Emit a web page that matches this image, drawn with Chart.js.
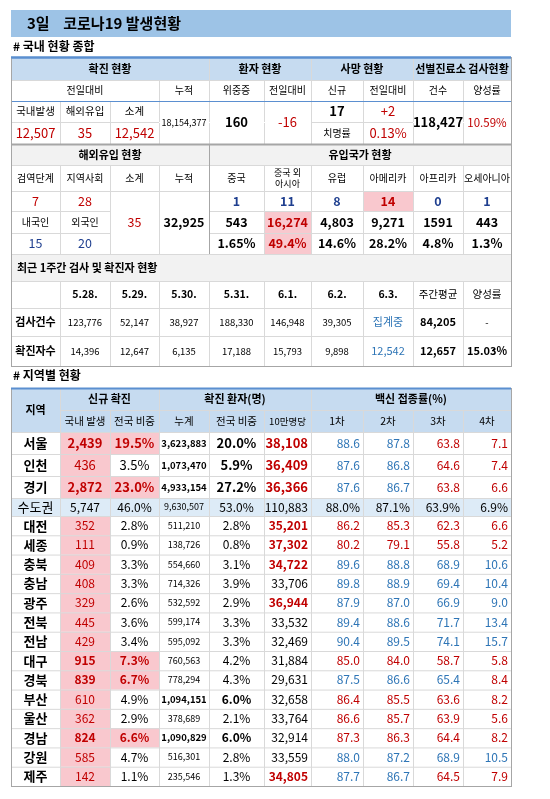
<!DOCTYPE html>
<html>
<head>
<meta charset="utf-8">
<script src="https://cdn.jsdelivr.net/npm/chart.js@4.4.1/dist/chart.umd.min.js"></script>
<style>
  html, body { margin: 0; padding: 0; background: #fff; }
  #board { display: block; }
</style>
</head>
<body>
<canvas id="board" width="550" height="799"></canvas>
<script>
// ---- data ----
const summaryHead = ["확진 현황", "환자 현황", "사망 현황", "선별진료소 검사현황"];
const summarySub = ["전일대비", "누적", "위중증", "전일대비", "신규", "전일대비", "건수", "양성률"];
const dailyLabels = ["국내발생", "해외유입", "소계"];
const dailyValues = ["12,507", "35", "12,542"];
const cumulativeTotal = "18,154,377";
const criticalValues = ["160", "-16"];
const deathValues = ["17", "+2"];
const fatalityRate = "0.13%";
const testValues = ["118,427", "10.59%"];

const importLabels = ["검역단계", "지역사회", "소계", "누적"];
const importStage = ["7", "28"];
const importNation = ["내국인", "외국인"];
const importNationValues = ["15", "20"];
const importSubtotal = "35";
const importCumulative = "32,925";
const originRegions = ["중국", "중국 외\n아시아", "유럽", "아메리카", "아프리카", "오세아니아"];
const originToday = ["1", "11", "8", "14", "0", "1"];
const originCumulative = ["543", "16,274", "4,803", "9,271", "1591", "443"];
const originShare = ["1.65%", "49.4%", "14.6%", "28.2%", "4.8%", "1.3%"];

const weekDates = ["5.28.", "5.29.", "5.30.", "5.31.", "6.1.", "6.2.", "6.3.", "주간평균", "양성률"];
const weekTests = ["123,776", "52,147", "38,927", "188,330", "146,948", "39,305", "집계중", "84,205", "-"];
const weekConfirmed = ["14,396", "12,647", "6,135", "17,188", "15,793", "9,898", "12,542", "12,657", "15.03%"];

const regions = ["서울", "인천", "경기", "수도권", "대전", "세종", "충북", "충남", "광주", "전북", "전남", "대구", "경북", "부산", "울산", "경남", "강원", "제주"];
const newCases = ["2,439", "436", "2,872", "5,747", "352", "111", "409", "408", "329", "445", "429", "915", "839", "610", "362", "824", "585", "142"];
const newShare = ["19.5%", "3.5%", "23.0%", "46.0%", "2.8%", "0.9%", "3.3%", "3.3%", "2.6%", "3.6%", "3.4%", "7.3%", "6.7%", "4.9%", "2.9%", "6.6%", "4.7%", "1.1%"];
const cumCases = ["3,623,883", "1,073,470", "4,933,154", "9,630,507", "511,210", "138,726", "554,660", "714,326", "532,592", "599,174", "595,092", "760,563", "778,294", "1,094,151", "378,689", "1,090,829", "516,301", "235,546"];
const cumShare = ["20.0%", "5.9%", "27.2%", "53.0%", "2.8%", "0.8%", "3.1%", "3.9%", "2.9%", "3.3%", "3.3%", "4.2%", "4.3%", "6.0%", "2.1%", "6.0%", "2.8%", "1.3%"];
const per100k = ["38,108", "36,409", "36,366", "110,883", "35,201", "37,302", "34,722", "33,706", "36,944", "33,532", "32,469", "31,884", "29,631", "32,658", "33,764", "32,914", "33,559", "34,805"];
const vac1 = ["88.6", "87.6", "87.6", "88.0%", "86.2", "80.2", "89.6", "89.8", "87.9", "89.4", "90.4", "85.0", "87.5", "86.4", "86.6", "87.3", "88.0", "87.7"];
const vac2 = ["87.8", "86.8", "86.7", "87.1%", "85.3", "79.1", "88.8", "88.9", "87.0", "88.6", "89.5", "84.0", "86.6", "85.5", "85.7", "86.3", "87.2", "86.7"];
const vac3 = ["63.8", "64.6", "63.8", "63.9%", "62.3", "55.8", "68.9", "69.4", "66.9", "71.7", "74.1", "58.7", "65.4", "63.6", "63.9", "64.4", "68.9", "64.5"];
const vac4 = ["7.1", "7.4", "6.6", "6.9%", "6.6", "5.2", "10.6", "10.4", "9.0", "13.4", "15.7", "5.8", "8.4", "8.2", "5.6", "8.2", "10.5", "7.9"];

// ---- styling (kept apart from the values) ----
const RED = "#c00000", BLUE = "#2e75b6", NAVY = "#1f3f8f", PINK = "#f9c8ce";
const HEAD = "#c6dbf0", GRAY = "#f2f2f2", LINE = "#d9d9d9", EDGE = "#a6a6a6", BLUELINE = "#5b8fd0";
const FONT = "'Noto Sans CJK KR', 'Noto Sans', sans-serif";
const vacTone = ["bbrr", "bbrr", "bbrr", "kkkk", "rrrr", "rrrr", "bbbb", "bbbb", "bbbb", "bbbb", "bbbb", "rrrr", "bbbr", "rrrr", "rrrr", "rrrr", "bbbb", "bbrr"];
const hotRegion = ["서울", "경기", "대구", "경북", "경남"];
const boldCum = ["서울", "인천", "경기", "부산", "경남"];
const redPer100k = ["서울", "인천", "경기", "대전", "세종", "충북", "광주", "제주"];

const cols = [11, 60, 110, 159, 209, 264, 311, 363, 413, 463, 511];

const tablePlugin = {
  id: "tablePlugin",
  afterDraw(chart) {
    const c = chart.ctx;
    const X = v => chart.scales.x.getPixelForValue(v);
    const Y = v => chart.scales.y.getPixelForValue(v);

    const box = (x0, y0, x1, y1, color) => {
      c.fillStyle = color;
      c.fillRect(X(x0), Y(y0), X(x1) - X(x0), Y(y1) - Y(y0));
    };
    const hline = (x0, x1, y, color, w) => {
      c.strokeStyle = color; c.lineWidth = w || 1;
      c.beginPath(); c.moveTo(X(x0), Y(y) + 0.5); c.lineTo(X(x1), Y(y) + 0.5); c.stroke();
    };
    const vline = (x, y0, y1, color, w) => {
      c.strokeStyle = color; c.lineWidth = w || 1;
      c.beginPath(); c.moveTo(X(x) + 0.5, Y(y0)); c.lineTo(X(x) + 0.5, Y(y1)); c.stroke();
    };
    const write = (str, x, y, o) => {
      o = o || {};
      c.font = (o.bold ? "bold " : "") + (o.size || 11) + "px " + FONT;
      c.fillStyle = o.color || "#000";
      c.textAlign = o.align || "center";
      c.textBaseline = "middle";
      const lines = String(str).split("\n");
      const lh = (o.size || 11) + 2;
      lines.forEach((ln, i) => c.fillText(ln, X(x), Y(y) + (i - (lines.length - 1) / 2) * lh));
    };
    // cell spanning column indices a..b and rows y0..y1
    const cell = (a, b, y0, y1, str, o) => {
      o = o || {};
      if (o.bg) box(cols[a], y0, cols[b], y1, o.bg);
      if (o.align === "right") write(str, cols[b] - 3, (y0 + y1) / 2, o);
      else if (o.align === "left") write(str, cols[a] + 6, (y0 + y1) / 2, o);
      else write(str, (cols[a] + cols[b]) / 2, (y0 + y1) / 2, o);
    };
    const grid = (y0, y1, ys, xs) => {
      ys.forEach(y => hline(cols[0], cols[10], y, LINE));
      xs.forEach(([x, a, b]) => vline(x, a, b, LINE));
    };

    // title
    box(11, 10, 511, 37, "#9dc3e6");
    write("3일    코로나19 발생현황", 27, 23.5, { bold: true, size: 15, align: "left" });
    write("# 국내 현황 종합", 13, 46, { bold: true, size: 12, align: "left" });

    // ---- section 1 ----
    box(cols[0], 57, cols[10], 80, HEAD);
    grid(57, 144, [80, 122], []);
    [[cols[4], 57, 144], [cols[6], 57, 144], [cols[8], 57, 144]].forEach(l => vline(l[0], l[1], l[2], LINE));
    [1, 2].forEach(i => vline(cols[i], 101, 144, LINE));
    vline(cols[3], 80, 144, LINE); vline(cols[5], 80, 144, LINE);
    vline(cols[7], 80, 144, LINE); vline(cols[9], 80, 144, LINE);
    hline(cols[0], cols[3], 122, LINE); hline(cols[6], cols[8], 122, LINE);
    hline(cols[3], cols[6], 122, "#fff", 1); hline(cols[8], cols[10], 122, "#fff", 1);
    [0, 4, 6, 8].forEach((a, i) => cell(a, [4, 6, 8, 10][i], 57, 80, summaryHead[i], { bold: true, size: 11 }));
    const subSpans = [[0, 3], [3, 4], [4, 5], [5, 6], [6, 7], [7, 8], [8, 9], [9, 10]];
    subSpans.forEach((s, i) => cell(s[0], s[1], 80, 101, summarySub[i], { size: 10 }));
    dailyLabels.forEach((t, i) => cell(i, i + 1, 101, 122, t, { size: 10.5 }));
    dailyValues.forEach((t, i) => cell(i, i + 1, 122, 144, t, { size: 13, color: RED }));
    cell(3, 4, 101, 144, cumulativeTotal, { size: 9 });
    cell(4, 5, 101, 144, criticalValues[0], { size: 13, bold: true });
    cell(5, 6, 101, 144, criticalValues[1], { size: 13, color: RED });
    cell(6, 7, 101, 122, deathValues[0], { size: 13, bold: true });
    cell(7, 8, 101, 122, deathValues[1], { size: 13, color: RED });
    cell(6, 7, 122, 144, "치명률", { size: 10 });
    cell(7, 8, 122, 144, fatalityRate, { size: 13, color: RED });
    cell(8, 9, 101, 144, testValues[0], { size: 13, bold: true });
    cell(9, 10, 101, 144, testValues[1], { size: 11.5, color: RED });
    hline(cols[0], cols[10], 57, BLUELINE, 2);
    hline(cols[0], cols[10], 101, BLUELINE, 1);

    // ---- section 2 ----
    box(cols[0], 144, cols[10], 165, GRAY);
    box(cols[0], 254, cols[10], 281, GRAY);
    box(cols[5], 191, cols[6], 254, "#fff");
    box(cols[7], 191, cols[8], 211, PINK);
    box(cols[5], 211, cols[6], 254, PINK);
    [165, 191].forEach(y => hline(cols[0], cols[10], y, LINE));
    hline(cols[0], cols[2], 211, LINE); hline(cols[0], cols[2], 233, LINE);
    hline(cols[4], cols[10], 211, LINE); hline(cols[4], cols[10], 233, LINE);
    for (let i = 1; i < 10; i++) if (i !== 4) vline(cols[i], 165, 254, LINE);
    vline(cols[4], 144, 254, EDGE);
    cell(0, 4, 144, 165, "해외유입 현황", { bold: true, size: 11 });
    cell(4, 10, 144, 165, "유입국가 현황", { bold: true, size: 11 });
    importLabels.forEach((t, i) => cell(i, i + 1, 165, 191, t, { size: 10 }));
    originRegions.forEach((t, i) => cell(4 + i, 5 + i, 165, 191, t, { size: t.includes("\n") ? 9 : 10 }));
    importStage.forEach((t, i) => cell(i, i + 1, 191, 211, t, { size: 12.5, color: RED }));
    importNation.forEach((t, i) => cell(i, i + 1, 211, 233, t, { size: 10 }));
    importNationValues.forEach((t, i) => cell(i, i + 1, 233, 254, t, { size: 12.5, color: NAVY }));
    cell(2, 3, 191, 254, importSubtotal, { size: 12.5, color: RED });
    cell(3, 4, 191, 254, importCumulative, { size: 12.5, bold: true });
    originToday.forEach((t, i) => cell(4 + i, 5 + i, 191, 211, t, { size: 12.5, bold: true, color: i === 3 ? RED : NAVY }));
    originCumulative.forEach((t, i) => cell(4 + i, 5 + i, 211, 233, t, { size: 12.5, bold: true, color: i === 1 ? RED : "#000" }));
    originShare.forEach((t, i) => cell(4 + i, 5 + i, 233, 254, t, { size: 12.5, bold: true, color: i === 1 ? RED : "#000" }));
    hline(cols[0], cols[10], 254, LINE);

    write("최근 1주간 검사 및 확진자 현황", 17, 267.5, { bold: true, size: 11, align: "left" });
    [281, 308, 336].forEach(y => hline(cols[0], cols[10], y, LINE));
    for (let i = 1; i < 10; i++) vline(cols[i], 281, 366, LINE);
    weekDates.forEach((t, i) => cell(i + 1, i + 2, 281, 308, t, { size: 10.5, bold: i < 7 }));
    cell(0, 1, 308, 336, "검사건수", { size: 11, bold: true });
    cell(0, 1, 336, 366, "확진자수", { size: 11, bold: true });
    weekTests.forEach((t, i) => cell(i + 1, i + 2, 308, 336, t, {
      size: i === 6 ? 11 : (i === 7 ? 11 : 9.5), bold: i === 7, color: i === 6 ? BLUE : "#000" }));
    weekConfirmed.forEach((t, i) => cell(i + 1, i + 2, 336, 366, t, {
      size: i < 6 ? 9.5 : 11, bold: i > 6, color: i === 6 ? BLUE : "#000" }));
    c.strokeStyle = EDGE; c.lineWidth = 1;
    c.strokeRect(X(cols[0]) + 0.5, Y(57) + 0.5, X(cols[10]) - X(cols[0]), Y(366) - Y(57));
    hline(cols[0], cols[10], 144, EDGE, 2);
    hline(cols[0], cols[10], 57, BLUELINE, 2);

    // ---- section 3 ----
    write("# 지역별 현황", 13, 375, { bold: true, size: 12, align: "left" });
    box(cols[0], 388, cols[10], 432, HEAD);
    const rowTop = [432, 454, 476, 498, 516];
    while (rowTop.length < regions.length + 1) rowTop.push(516 + (rowTop.length - 4) * (270 / 14));
    box(cols[0], rowTop[3], cols[10], rowTop[4], "#ddebf7");
    hline(cols[1], cols[10], 410, LINE);
    [1, 3, 6].forEach(i => vline(cols[i], 388, 786, LINE));
    [2, 4, 5, 7, 8, 9].forEach(i => vline(cols[i], 410, 786, LINE));
    cell(0, 1, 388, 432, "지역", { bold: true, size: 11 });
    cell(1, 3, 388, 410, "신규 확진", { bold: true, size: 11 });
    cell(3, 6, 388, 410, "확진 환자(명)", { bold: true, size: 11 });
    cell(6, 10, 388, 410, "백신 접종률(%)", { bold: true, size: 11 });
    ["국내 발생", "전국 비중", "누계", "전국 비중", "10만명당", "1차", "2차", "3차", "4차"]
      .forEach((t, i) => cell(i + 1, i + 2, 410, 432, t, { size: i === 4 ? 9.5 : 10.5 }));

    regions.forEach((r, i) => {
      const y0 = rowTop[i], y1 = rowTop[i + 1];
      const metro = r === "수도권";
      const hot = hotRegion.includes(r);
      if (!metro) box(cols[1], y0, cols[2], y1, PINK);
      if (hot) box(cols[2], y0, cols[3], y1, PINK);
      hline(cols[0], cols[10], y0, LINE);
      vline(cols[1], y0, y1, LINE); vline(cols[2], y0, y1, LINE); vline(cols[3], y0, y1, LINE);
      const big = i < 3 ? 13 : 12;
      cell(0, 1, y0, y1, r, { bold: !metro, size: 13 });
      cell(1, 2, y0, y1, newCases[i], { size: big, bold: hot, color: metro ? "#000" : RED });
      cell(2, 3, y0, y1, newShare[i], { size: big, bold: hot, color: hot ? RED : "#000" });
      const bc = boldCum.includes(r);
      cell(3, 4, y0, y1, cumCases[i], { size: bc ? 9.5 : 9, bold: bc });
      cell(4, 5, y0, y1, cumShare[i], { size: big, bold: bc });
      const rp = redPer100k.includes(r);
      cell(5, 6, y0, y1, per100k[i], { size: big, bold: rp, color: rp ? RED : "#000", align: "right" });
      [vac1, vac2, vac3, vac4].forEach((arr, k) => {
        const t = vacTone[i][k];
        cell(6 + k, 7 + k, y0, y1, arr[i], { size: 12, align: "right",
          color: t === "r" ? RED : (t === "b" ? BLUE : "#000") });
      });
    });
    c.strokeStyle = EDGE; c.lineWidth = 1;
    c.strokeRect(X(cols[0]) + 0.5, Y(388) + 0.5, X(cols[10]) - X(cols[0]), Y(786) - Y(388));
    hline(cols[0], cols[10], 388, BLUELINE, 2);
  }
};

new Chart(document.getElementById("board"), {
  type: "scatter",
  data: { datasets: [{ data: [], showLine: false }] },
  options: {
    responsive: false,
    animation: false,
    layout: { padding: 0 },
    plugins: { legend: { display: false }, tooltip: { enabled: false } },
    scales: {
      x: { type: "linear", min: 0, max: 550, display: false },
      y: { type: "linear", min: 0, max: 799, reverse: true, display: false }
    }
  },
  plugins: [tablePlugin]
});
</script>
</body>
</html>
